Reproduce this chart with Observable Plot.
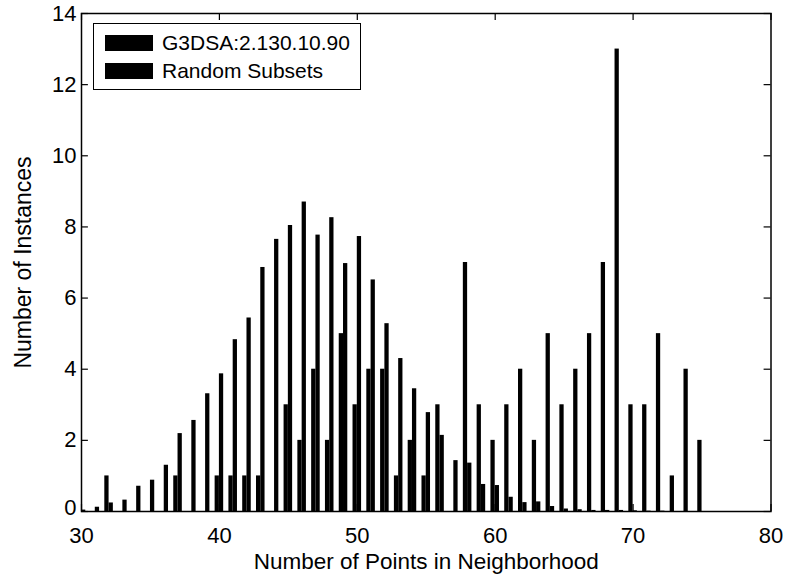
<!DOCTYPE html>
<html>
<head>
<meta charset="utf-8">
<script src="https://cdn.jsdelivr.net/npm/d3@7"></script>
<script src="https://cdn.jsdelivr.net/npm/@observablehq/plot@0.6"></script>
<style>
  html, body { margin: 0; padding: 0; background: #fff; }
  #wrap { position: relative; width: 786px; height: 574px; font-family: "Liberation Sans", Arial, Helvetica, sans-serif; }
  #legend { position: absolute; left: 93px; top: 23px; background: #fff; border: 1.5px solid #000; padding: 5px 10px 4px 11px; }
  .row { display: flex; align-items: center; height: 28px; font-size: 21px; color: #000; white-space: nowrap; }
  .sw { width: 48px; height: 16px; background: #000; margin-right: 9px; }
</style>
</head>
<body>
<div id="wrap"></div>
<script>
// Data
const points = [30,31,32,33,34,35,36,37,38,39,40,41,42,43,44,45,46,47,48,49,50,51,52,53,54,55,56,57,58,59,60,61,62,63,64,65,66,67,68,69,70,71,72,73,74,75];
const g3dsa  = [0,0,1,0,0,0,0,1,0,0,1,1,1,1,0,3,2,4,2,5,3,4,4,1,2,1,3,0,7,3,2,3,4,2,5,3,4,5,7,13,3,3,5,1,4,2];
const randomSubsets = [0.04,0.12,0.24,0.32,0.71,0.88,1.30,2.19,2.56,3.31,3.87,4.83,5.44,6.86,7.65,8.04,8.70,7.77,8.26,6.97,7.73,6.51,5.28,4.30,3.45,2.78,2.14,1.43,1.36,0.76,0.73,0.40,0.25,0.27,0.14,0.07,0.05,0.03,0.03,0.03,0.02,0.01,0.01,0,0,0];
const seriesNames = ["G3DSA:2.130.10.90", "Random Subsets"];
const xTicks = [30,40,50,60,70,80];
const yTicks = [0,2,4,6,8,10,12,14];

const rows = points.map((x, i) => ({x, g: g3dsa[i], r: randomSubsets[i]}));
const bw = 0.31; // bar width in x units (grouped bars)

const chart = Plot.plot({
  width: 786,
  height: 574,
  marginLeft: 81,
  marginRight: 15.5,
  marginTop: 13,
  marginBottom: 63,
  style: {fontFamily: '"Liberation Sans", Arial, Helvetica, sans-serif', fontSize: "22px", color: "#000", background: "#fff"},
  x: {domain: [30, 80], ticks: xTicks},
  y: {domain: [0, 14], ticks: yTicks},
  marks: [
    Plot.rectY(rows, {x1: d => d.x - bw, x2: d => d.x, y1: 0, y2: "g", fill: "#000"}),
    Plot.rectY(rows, {x1: d => d.x, x2: d => d.x + bw, y1: 0, y2: "r", fill: "#000"}),
    // inward ticks on all four sides
    Plot.ruleX(xTicks, {x: d => d, y1: 0, y2: 0.2, stroke: "#000", strokeWidth: 1.2}),
    Plot.ruleX(xTicks, {x: d => d, y1: 13.8, y2: 14, stroke: "#000", strokeWidth: 1.2}),
    Plot.ruleY(yTicks, {y: d => d, x1: 30, x2: 30.5, stroke: "#000", strokeWidth: 1.2}),
    Plot.ruleY(yTicks, {y: d => d, x1: 79.5, x2: 80, stroke: "#000", strokeWidth: 1.2}),
    Plot.frame({stroke: "#000", strokeWidth: 1.5}),
    Plot.axisX({ticks: xTicks, tickSize: 0, tickPadding: 16, label: null, fontSize: 22}),
    Plot.axisY({ticks: yTicks.filter(t => t !== 0), tickSize: 0, tickPadding: 5, label: null, fontSize: 22}),
    Plot.axisY({ticks: yTicks.filter(t => t === 0), tickSize: 0, tickPadding: 5, dy: -4, label: null, fontSize: 22}),
    Plot.text(["Number of Points in Neighborhood"], {frameAnchor: "bottom", dy: 50, lineAnchor: "middle", textAnchor: "middle", fontSize: 22.5, fill: "#000"}),
    Plot.text(["Number of Instances"], {frameAnchor: "left", dx: -58, rotate: -90, lineAnchor: "middle", textAnchor: "middle", fontSize: 23, fill: "#000"})
  ]
});

const wrap = document.getElementById("wrap");
wrap.appendChild(chart);

const legend = document.createElement("div");
legend.id = "legend";
seriesNames.forEach(name => {
  const row = document.createElement("div");
  row.className = "row";
  const sw = document.createElement("div");
  sw.className = "sw";
  const t = document.createElement("span");
  t.textContent = name;
  row.appendChild(sw);
  row.appendChild(t);
  legend.appendChild(row);
});
wrap.appendChild(legend);
</script>
</body>
</html>
